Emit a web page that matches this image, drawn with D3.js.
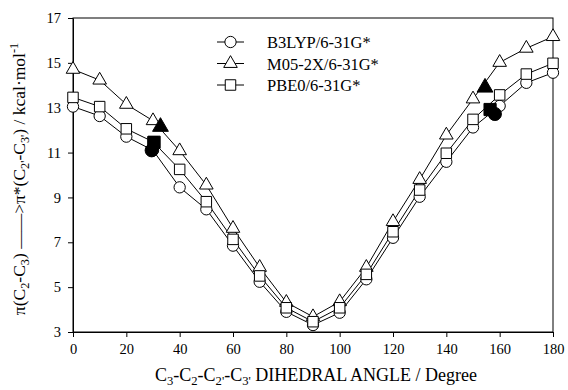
<!DOCTYPE html>
<html><head><meta charset="utf-8">
<script src="https://cdn.jsdelivr.net/npm/d3@7"></script>
<style>body{margin:0;background:#fff}svg{display:block}</style>
</head><body>
<script>
const angles = [0,10,20,30,40,50,60,70,80,90,100,110,120,130,140,150,160,170,180];
const b3lyp  = [13.05,12.63,11.71,11.10,9.45,8.47,6.85,5.24,3.90,3.31,3.86,5.35,7.20,9.03,10.59,12.12,13.08,14.11,14.56];
const m052x  = [14.71,14.23,13.15,12.42,11.08,9.55,7.62,5.88,4.32,3.68,4.35,5.88,7.92,9.80,11.78,13.39,15.02,15.65,16.17];
const pbe0   = [13.46,13.05,12.06,11.48,10.25,8.81,7.13,5.50,4.08,3.46,4.08,5.57,7.47,9.33,10.97,12.48,13.57,14.50,14.98];
const filledAngleB3 = [29.5,158.2], filledValB3 = [11.10,12.72];
const filledAngleM05 = [32.8,154.5], filledValM05 = [12.15,13.90];
const filledAnglePBE = [30.4,156.4], filledValPBE = [11.46,12.92];
const seriesNames = ["B3LYP/6-31G*","M05-2X/6-31G*","PBE0/6-31G*"];
const xTicks = [0,20,40,60,80,100,120,140,160,180];
const yTicks = [3,5,7,9,11,13,15,17];

const FONT = "'Liberation Serif', 'Times New Roman', serif";
const W=568,H=390,m={l:73,r:15,t:18,b:58};
const svg=d3.select("body").append("svg").attr("width",W).attr("height",H)
  .style("font-family",FONT);
const x=d3.scaleLinear().domain([0,180]).range([m.l,W-m.r]);
const y=d3.scaleLinear().domain([3,17]).range([H-m.b,m.t]);

svg.append("rect").attr("x",m.l).attr("y",m.t).attr("width",W-m.r-m.l).attr("height",H-m.b-m.t)
  .attr("fill","none").attr("stroke","#000").attr("stroke-width",1);

const xa=svg.append("g").attr("transform",`translate(0,${H-m.b})`)
  .call(d3.axisBottom(x).tickValues(xTicks).tickSize(5).tickPadding(7).tickSizeOuter(0));
const ya=svg.append("g").attr("transform",`translate(${m.l},0)`)
  .call(d3.axisLeft(y).tickValues(yTicks).tickSize(5).tickPadding(7).tickSizeOuter(0));
[xa,ya].forEach(a=>{a.attr("font-family",null).style("font-family",FONT).attr("font-size",14.5);
  a.select(".domain").attr("stroke","#000");a.selectAll("line").attr("stroke","#000");
  a.selectAll("text").style("font-family",FONT).attr("fill","#000");});

const line=d3.line().x((d,i)=>x(angles[i])).y(d=>y(d));
const sym={circle:d3.symbolCircle,triangle:d3.symbolTriangle,square:d3.symbolSquare};
const size={circle:100,triangle:80,square:110};
const series=[{v:b3lyp,s:"circle",fa:filledAngleB3,fv:filledValB3},
              {v:m052x,s:"triangle",fa:filledAngleM05,fv:filledValM05},
              {v:pbe0,s:"square",fa:filledAnglePBE,fv:filledValPBE}];
series.forEach(se=>{
  svg.append("path").attr("d",line(se.v)).attr("fill","none").attr("stroke","#000").attr("stroke-width",1);
});
series.forEach(se=>{
  svg.append("g").selectAll("path").data(se.v).join("path")
    .attr("transform",(d,i)=>`translate(${x(angles[i])},${y(d)})`)
    .attr("d",d3.symbol().type(sym[se.s]).size(size[se.s]))
    .attr("fill","#fff").attr("stroke","#000").attr("stroke-width",1);
});
series.forEach(se=>{
  svg.append("g").selectAll("path").data(se.fv).join("path")
    .attr("transform",(d,i)=>`translate(${x(se.fa[i])},${y(d)})`)
    .attr("d",d3.symbol().type(sym[se.s]).size(size[se.s]*1.35))
    .attr("fill","#000").attr("stroke","#000");
});

// legend
const lg=svg.append("g");
const legendSyms=["circle","triangle","square"];
seriesNames.forEach((n,i)=>{
  const yy=42+i*21.5;
  lg.append("line").attr("x1",217).attr("x2",244).attr("y1",yy).attr("y2",yy).attr("stroke","#000");
  lg.append("path").attr("transform",`translate(230.5,${yy})`)
    .attr("d",d3.symbol().type(sym[legendSyms[i]]).size(size[legendSyms[i]])).attr("fill","#fff").attr("stroke","#000");
  lg.append("text").attr("x",267).attr("y",yy+6).attr("font-size",16.5).text(n);
});

function seq(t,parts){let shift=0;parts.forEach(p=>{const s=t.append("tspan").text(p[0]);
  const d= p[1]==="sub"?4:(p[1]==="sup"?-7:0);
  if(p[1]==="sub"||p[1]==="sup") s.attr("font-size","70%");
  s.attr("dy",d-shift);shift=d;});}

const xt=svg.append("text").attr("x",316).attr("y",381).attr("text-anchor","middle").attr("font-size",18);
seq(xt,[["C"],["3","sub"],["-C"],["2","sub"],["-C"],["2'","sub"],["-C"],["3'","sub"],[" DIHEDRAL ANGLE / Degree"]]);

const yt=svg.append("text").attr("transform","translate(25,179) rotate(-90)").attr("text-anchor","middle").attr("font-size",17.5);
seq(yt,[["π(C"],["2","sub"],["-C"],["3","sub"],[") "],["——>"],["π*(C"],["2'","sub"],["-C"],["3'","sub"],[") / kcal·mol"],["-1","sup"]]);
</script>
</body></html>
